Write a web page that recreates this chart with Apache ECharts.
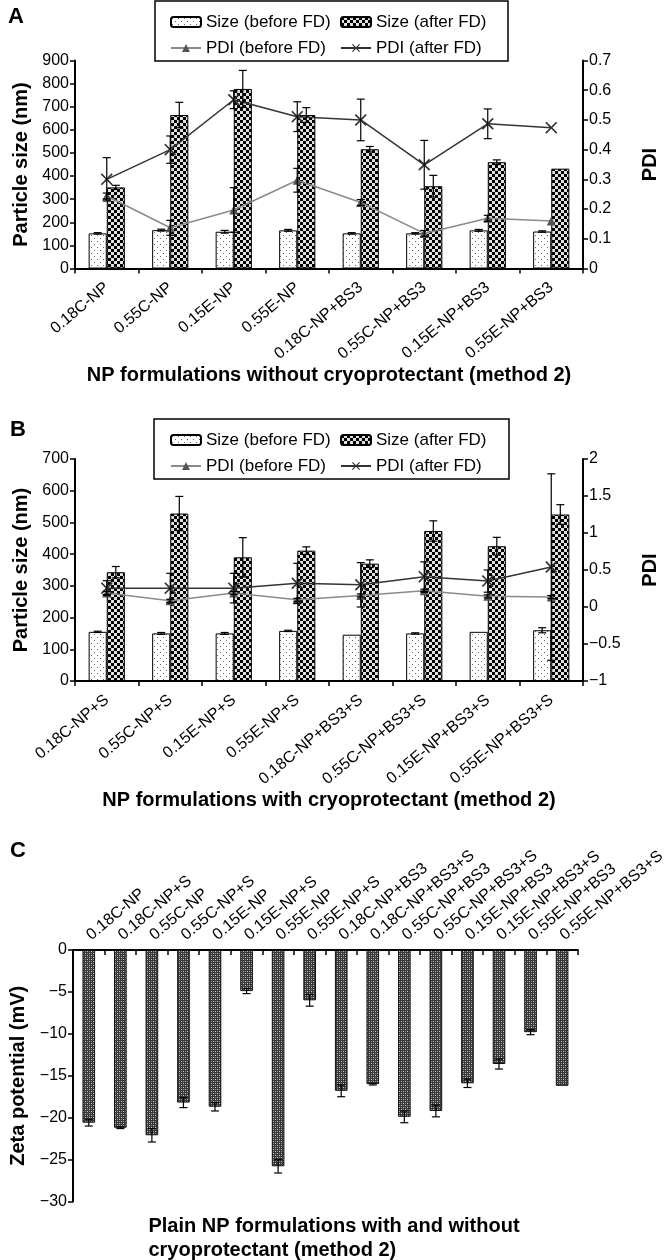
<!DOCTYPE html>
<html><head><meta charset="utf-8">
<script src="https://cdn.jsdelivr.net/npm/echarts@6/dist/echarts.min.js"></script>
<style>html,body{margin:0;padding:0;background:#fff}#c{width:668px;height:1260px}</style>
</head><body><div id="c"></div>
<script>
const catsA = ['0.18C-NP','0.55C-NP','0.15E-NP','0.55E-NP','0.18C-NP+BS3','0.55C-NP+BS3','0.15E-NP+BS3','0.55E-NP+BS3'];
const sizeBeforeA = [152,166,159,165,152,152,165,160];
const sizeBeforeErrA = [3,4,6,4,3,3,4,3];
const sizeAfterA = [351,664,777,664,516,356,460,432];
const sizeAfterErrA = [9,55,80,32,12,47,10,0];
const pdiBeforeA = [0.244,0.137,0.197,0.297,0.222,0.118,0.169,0.160];
const pdiBeforeErrA = [0.01,0.025,0.075,0.04,0.01,0.01,0.01,0];
const pdiAfterA = [0.30,0.40,0.568,0.511,0.50,0.349,0.487,0.474];
const pdiAfterErrA = [0.073,0.046,0.03,0.05,0.07,0.082,0.05,0];

const catsB = ['0.18C-NP+S','0.55C-NP+S','0.15E-NP+S','0.55E-NP+S','0.18C-NP+BS3+S','0.55C-NP+BS3+S','0.15E-NP+BS3+S','0.55E-NP+BS3+S'];
const sizeBeforeB = [155,150,150,158,146,150,155,160];
const sizeBeforeErrB = [2,3,3,2,0,2,0,8];
const sizeAfterB = [343,528,390,411,370,473,425,525];
const sizeAfterErrB = [18,54,62,12,12,32,28,31];
const pdiBeforeB = [0.19,0.084,0.19,0.097,0.156,0.22,0.144,0.135];
const pdiBeforeErrB = [0.02,0.02,0.02,0.02,0.02,0.02,0.02,0.02];
const pdiAfterB = [0.255,0.255,0.255,0.32,0.30,0.41,0.35,0.54];
const pdiAfterErrB = [0.1,0.2,0.2,0.27,0.3,0.2,0.15,1.26];

const catsC = ['0.18C-NP','0.18C-NP+S','0.55C-NP','0.55C-NP+S','0.15E-NP','0.15E-NP+S','0.55E-NP','0.55E-NP+S','0.18C-NP+BS3','0.18C-NP+BS3+S','0.55C-NP+BS3','0.55C-NP+BS3+S','0.15E-NP+BS3','0.15E-NP+BS3+S','0.55E-NP+BS3','0.55E-NP+BS3+S'];
const zetaC = [-20.6,-21.2,-22.1,-18.2,-18.7,-4.9,-25.8,-6.0,-16.8,-16.0,-19.9,-19.2,-15.9,-13.6,-9.8,-16.2];
const zetaErrC = [0.4,0.1,0.8,0.6,0.5,0.3,0.8,0.7,0.7,0.1,0.7,0.7,0.5,0.6,0.3,0];

const FONT = "'Liberation Sans', Arial, sans-serif";

function pat(w, h, draw) {
  const c = document.createElement('canvas'); c.width = w; c.height = h;
  draw(c.getContext('2d'));
  return { image: c, repeat: 'repeat' };
}
const dotPat = pat(6, 6, g => { g.fillStyle = '#fff'; g.fillRect(0,0,6,6); g.fillStyle = '#666'; g.fillRect(1,1,1,1); g.fillRect(4,4,1,1); });
const checkPat = pat(6, 6, g => { g.fillStyle = '#e0e0e0'; g.fillRect(0,0,6,6); g.fillStyle = '#000'; g.fillRect(0,0,3,3); g.fillRect(3,3,3,3); });
const latticePat = pat(4, 4, g => { g.fillStyle = '#383838'; g.fillRect(0,0,4,4); g.fillStyle = '#c8c8c8'; g.fillRect(1,1,1,1); g.fillRect(3,3,1,1); g.fillStyle = '#8a8a8a'; g.fillRect(3,1,1,1); g.fillRect(1,3,1,1); });

const XSYM = 'path://M0,1 L1,0 L5,4 L9,0 L10,1 L6,5 L10,9 L9,10 L5,6 L1,10 L0,9 L4,5 Z';

function errData(vals, errs) { return vals.map((v, i) => [i, v, errs[i]]); }
function errRender(offsetFrac) {
  return function (params, api) {
    const x = api.value(0), v = api.value(1), e = api.value(2);
    if (!e) return null;
    const cw = api.size([1, 0])[0];
    const top = api.coord([x, v + e]);
    const bot = api.coord([x, v - e]);
    const cx = top[0] + cw * offsetFrac;
    const hw = 4;
    const st = { stroke: '#000', lineWidth: 1.2 };
    return { type: 'group', children: [
      { type: 'line', shape: { x1: cx, y1: top[1], x2: cx, y2: bot[1] }, style: st },
      { type: 'line', shape: { x1: cx - hw, y1: top[1], x2: cx + hw, y2: top[1] }, style: st },
      { type: 'line', shape: { x1: cx - hw, y1: bot[1], x2: cx + hw, y2: bot[1] }, style: st }
    ]};
  };
}

const axisLine = { show: true, lineStyle: { color: '#000', width: 2 } };
const tickLbl = { color: '#000', fontSize: 16, fontFamily: FONT };
const minusFmt = v => String(v).replace('-', '\u2212');
const nameStyleBold = { color: '#000', fontSize: 20, fontWeight: 'bold', fontFamily: FONT };

function catAxis(gridIndex, cats, name, gap) {
  return {
    type: 'category', gridIndex, data: cats,
    axisLine, axisTick: { show: true, length: 5, lineStyle: { color: '#000', width: 1.5 } },
    axisLabel: { color: '#000', fontSize: 16, fontFamily: FONT, rotate: 40, interval: 0, margin: 17 },
    name, nameLocation: 'middle', nameGap: gap, nameTextStyle: nameStyleBold
  };
}
function valAxis(gridIndex, min, max, interval, name, gap, pos) {
  return {
    type: 'value', gridIndex, min, max, interval, position: pos,
    axisLine, axisTick: { show: true, length: 5, lineStyle: { color: '#000', width: 1.5 } },
    splitLine: { show: false },
    axisLabel: Object.assign({ formatter: minusFmt, margin: 6 }, tickLbl),
    name, nameLocation: 'middle', nameGap: gap, nameTextStyle: nameStyleBold
  };
}

function panelSeries(xi, yl, yr, sb, sbe, sa, sae, pb, pbe, pa, pae) {
  return [
    { name: 'Size (before FD)', type: 'bar', xAxisIndex: xi, yAxisIndex: yl, data: sb, barWidth: '28.5%', barGap: '0%',
      itemStyle: { color: dotPat, borderColor: '#000', borderWidth: 1 } },
    { name: 'Size (after FD)', type: 'bar', xAxisIndex: xi, yAxisIndex: yl, data: sa, barWidth: '28.5%', barGap: '0%',
      itemStyle: { color: checkPat, borderColor: '#000', borderWidth: 1 } },
    { name: 'PDI (before FD)', type: 'line', xAxisIndex: xi, yAxisIndex: yr, data: pb, z: 4,
      symbol: 'triangle', symbolSize: 9, lineStyle: { color: '#8a8a8a', width: 1.5 }, itemStyle: { color: '#555' } },
    { name: 'PDI (after FD)', type: 'line', xAxisIndex: xi, yAxisIndex: yr, data: pa, z: 4,
      symbol: XSYM, symbolSize: 12, lineStyle: { color: '#333', width: 1.5 }, itemStyle: { color: '#333' } },
    { type: 'custom', xAxisIndex: xi, yAxisIndex: yl, data: errData(sb, sbe), renderItem: errRender(-0.1425), encode: { x: 0, y: 1 }, z: 6, silent: true },
    { type: 'custom', xAxisIndex: xi, yAxisIndex: yl, data: errData(sa, sae), renderItem: errRender(0.1425), encode: { x: 0, y: 1 }, z: 6, silent: true },
    { type: 'custom', xAxisIndex: xi, yAxisIndex: yr, data: errData(pb, pbe), renderItem: errRender(0), encode: { x: 0, y: 1 }, z: 6, silent: true },
    { type: 'custom', xAxisIndex: xi, yAxisIndex: yr, data: errData(pa, pae), renderItem: errRender(0), encode: { x: 0, y: 1 }, z: 6, silent: true }
  ];
}

function legendCol(left, top, data) {
  return { left, top, orient: 'vertical', data, itemWidth: 30, itemHeight: 10, itemGap: 6,
    textStyle: { color: '#000', fontSize: 17, fontFamily: FONT, lineHeight: 20 }, selectedMode: false };
}

const chart = echarts.init(document.getElementById('c'), null, { renderer: 'canvas' });
chart.setOption({
  animation: false,
  backgroundColor: '#fff',
  title: [
    { text: 'A', left: 3, top: 1, textStyle: { fontSize: 22, fontWeight: 'bold', fontFamily: FONT, color: '#000' } },
    { text: 'B', left: 5, top: 414, textStyle: { fontSize: 22, fontWeight: 'bold', fontFamily: FONT, color: '#000' } },
    { text: 'C', left: 5, top: 835, textStyle: { fontSize: 22, fontWeight: 'bold', fontFamily: FONT, color: '#000' } },
    { text: 'Plain NP formulations with and without\ncryoprotectant (method 2)', left: 'center', top: 1209,
      textAlign: 'left', textStyle: { fontSize: 20, fontWeight: 'bold', fontFamily: FONT, color: '#000', lineHeight: 24, align: 'center' } }
  ],
  legend: [
    legendCol(165, 7, ['Size (before FD)', 'PDI (before FD)']),
    legendCol(335, 7, ['Size (after FD)', 'PDI (after FD)']),
    legendCol(165, 425, ['Size (before FD) ', 'PDI (before FD) ']),
    legendCol(335, 425, ['Size (after FD) ', 'PDI (after FD) '])
  ],
  graphic: [
    { type: 'rect', shape: { x: 155, y: 1, width: 353, height: 60 }, style: { fill: 'none', stroke: '#000', lineWidth: 1.5 }, z: 100 },
    { type: 'rect', shape: { x: 154, y: 419, width: 355, height: 60 }, style: { fill: 'none', stroke: '#000', lineWidth: 1.5 }, z: 100 }
  ],
  grid: [
    { left: 75, right: 79, top: 60.5, height: 208 },
    { left: 75, right: 79, top: 459, height: 222 },
    { left: 73, right: 79, top: 950, height: 251.5 }
  ],
  xAxis: [
    catAxis(0, catsA, 'NP formulations without cryoprotectant (method 2)', 97),
    catAxis(1, catsB, 'NP formulations with cryoprotectant (method 2)', 106),
    { type: 'category', gridIndex: 2, data: catsC, position: 'top',
      axisLine, axisTick: { show: true, inside: true, length: 5, lineStyle: { color: '#000', width: 1.5 } },
      axisLabel: { color: '#000', fontSize: 16, fontFamily: FONT, rotate: 40, interval: 0, margin: 13 } }
  ],
  yAxis: [
    valAxis(0, 0, 900, 100, 'Particle size (nm)', 39, 'left'),
    valAxis(0, 0, 0.7, 0.1, 'PDI', 57, 'right'),
    valAxis(1, 0, 700, 100, 'Particle size (nm)', 39, 'left'),
    valAxis(1, -1, 2, 0.5, 'PDI', 57, 'right'),
    valAxis(2, -30, 0, 5, 'Zeta potential (mV)', 36, 'left')
  ],
  series: [].concat(
    panelSeries(0, 0, 1, sizeBeforeA, sizeBeforeErrA, sizeAfterA, sizeAfterErrA, pdiBeforeA, pdiBeforeErrA, pdiAfterA, pdiAfterErrA),
    panelSeries(1, 2, 3, sizeBeforeB, sizeBeforeErrB, sizeAfterB, sizeAfterErrB, pdiBeforeB, pdiBeforeErrB, pdiAfterB, pdiAfterErrB).map(s => {
      if (s.name) s.name = s.name + ' ';
      return s;
    }),
    [
      { name: 'Zeta', type: 'bar', xAxisIndex: 2, yAxisIndex: 4, data: zetaC, barWidth: '40%',
        itemStyle: { color: latticePat, borderColor: '#111', borderWidth: 1 } },
      { type: 'custom', xAxisIndex: 2, yAxisIndex: 4, data: errData(zetaC, zetaErrC), renderItem: errRender(0), encode: { x: 0, y: 1 }, z: 6, silent: true }
    ]
  )
});
</script></body></html>
